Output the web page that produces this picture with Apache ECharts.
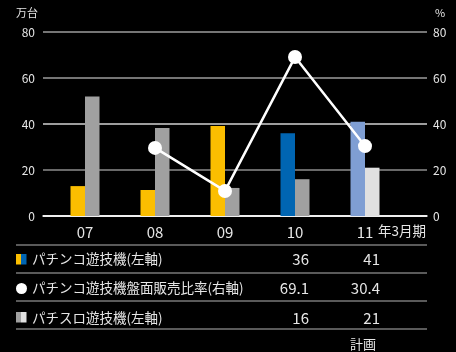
<!DOCTYPE html>
<html><head><meta charset="utf-8">
<script src="https://cdn.jsdelivr.net/npm/echarts@6/dist/echarts.min.js"></script>
<style>html,body{margin:0;padding:0;background:#000;}#c{width:456px;height:352px;}</style>
</head><body><div id="c"></div>
<script>
const categories = ['07', '08', '09', '10', '11'];
const pachinko = [13, 11.3, 39.1, 36, 41];
const ratio = [null, 29.6, 10.9, 69.1, 30.4];
const pachislot = [52, 38.3, 12.2, 16, 21];
const yTicks = [0, 20, 40, 60, 80];
const rowLabels = ['パチンコ遊技機(左軸)', 'パチンコ遊技機盤面販売比率(右軸)', 'パチスロ遊技機(左軸)'];

const pachinkoColors = ['#FBBE00', '#FBBE00', '#FBBE00', '#0065B2', '#7F9ED3'];
const slotColors = ['#A0A0A0', '#A0A0A0', '#A0A0A0', '#A0A0A0', '#E0E0E0'];
const FONT = '"Noto Sans CJK JP", "Noto Sans", sans-serif';
const txt = '#E6E6E6';

const chart = echarts.init(document.getElementById('c'), null, {renderer: 'canvas'});

const tableRows = [
  [pachinko[3], pachinko[4]],
  [ratio[3], ratio[4]],
  [pachislot[3], pachislot[4]]
];
const rowY = [259, 288, 318];
const graphics = [];
[245, 273, 301, 329].forEach(y => graphics.push({type: 'line', shape: {x1: 16, y1: y, x2: 427, y2: y}, style: {stroke: '#B4B4B4', lineWidth: 1}}));
// icons
graphics.push({type: 'rect', shape: {x: 16, y: 254, width: 5, height: 10.5}, style: {fill: '#FBBE00'}});
graphics.push({type: 'rect', shape: {x: 21, y: 254, width: 5.5, height: 10.5}, style: {fill: '#0065B2'}});
graphics.push({type: 'circle', shape: {cx: 21.5, cy: 288.5, r: 5.5}, style: {fill: '#FFFFFF'}});
graphics.push({type: 'rect', shape: {x: 16, y: 312, width: 5, height: 10.5}, style: {fill: '#A0A0A0'}});
graphics.push({type: 'rect', shape: {x: 21, y: 312, width: 5.5, height: 10.5}, style: {fill: '#E0E0E0'}});
rowLabels.forEach((t, i) => {
  graphics.push({type: 'text', x: 32, y: rowY[i], style: {text: t, fill: txt, font: '13.5px ' + FONT, verticalAlign: 'middle', align: 'left'}});
  graphics.push({type: 'text', x: 309, y: rowY[i], style: {text: String(tableRows[i][0]), fill: txt, font: '15px ' + FONT, verticalAlign: 'middle', align: 'right'}});
  graphics.push({type: 'text', x: 380, y: rowY[i], style: {text: String(tableRows[i][1]), fill: txt, font: '15px ' + FONT, verticalAlign: 'middle', align: 'right'}});
});
graphics.push({type: 'text', x: 363, y: 344, style: {text: '計画', fill: txt, font: '13px ' + FONT, verticalAlign: 'middle', align: 'center'}});
graphics.push({type: 'text', x: 378, y: 231, style: {text: '年3月期', fill: txt, font: '13.5px ' + FONT, verticalAlign: 'middle', align: 'left'}});
graphics.push({type: 'text', x: 27, y: 13, style: {text: '万台', fill: txt, font: '11px ' + FONT, verticalAlign: 'middle', align: 'center'}});
graphics.push({type: 'text', x: 440, y: 13, style: {text: '%', fill: txt, font: '11px ' + FONT, verticalAlign: 'middle', align: 'center'}});

const yBase = {type: 'value', min: yTicks[0], max: yTicks[yTicks.length - 1], interval: 20};

chart.setOption({
  backgroundColor: '#000',
  animation: false,
  textStyle: {fontFamily: FONT},
  grid: [
    {left: 43, right: 29, top: 32, bottom: 136},
    {left: 50, right: 56, top: 32, bottom: 136}
  ],
  xAxis: [
    {type: 'category', gridIndex: 0, data: categories, axisLabel: {show: false}, axisTick: {show: false},
     axisLine: {lineStyle: {color: '#FFFFFF', width: 1.5}}},
    {type: 'category', gridIndex: 1, data: categories, axisTick: {show: false}, axisLine: {show: false},
     axisLabel: {color: txt, fontSize: 15, margin: 9, fontFamily: FONT}}
  ],
  yAxis: [
    Object.assign({}, yBase, {gridIndex: 0, position: 'left', axisLine: {show: false}, axisTick: {show: false},
      axisLabel: {color: txt, fontSize: 12, margin: 8, fontFamily: FONT},
      splitLine: {show: true, lineStyle: {color: ['#FFFFFF', '#8C8C8C', '#D2D2D2', '#9C9C9C', '#9C9C9C'], width: 1.5}}}),
    Object.assign({}, yBase, {gridIndex: 0, position: 'right', axisLine: {show: false}, axisTick: {show: false},
      axisLabel: {color: txt, fontSize: 12, margin: 6, fontFamily: FONT}, splitLine: {show: false}}),
    Object.assign({}, yBase, {gridIndex: 1, show: false, splitLine: {show: false}}),
    Object.assign({}, yBase, {gridIndex: 1, show: false, position: 'right', splitLine: {show: false}})
  ],
  series: [
    {type: 'bar', xAxisIndex: 1, yAxisIndex: 2, barWidth: 14.5, barGap: '0%',
     data: pachinko.map((v, i) => ({value: v, itemStyle: {color: pachinkoColors[i]}}))},
    {type: 'bar', xAxisIndex: 1, yAxisIndex: 2, barWidth: 14.5, barGap: '0%',
     data: pachislot.map((v, i) => ({value: v, itemStyle: {color: slotColors[i]}}))},
    {type: 'line', xAxisIndex: 1, yAxisIndex: 3, data: ratio, z: 5, symbol: 'circle', symbolSize: 14,
     connectNulls: false, lineStyle: {color: '#FFFFFF', width: 2.5}, itemStyle: {color: '#FFFFFF'}}
  ],
  graphic: graphics
});
</script></body></html>
